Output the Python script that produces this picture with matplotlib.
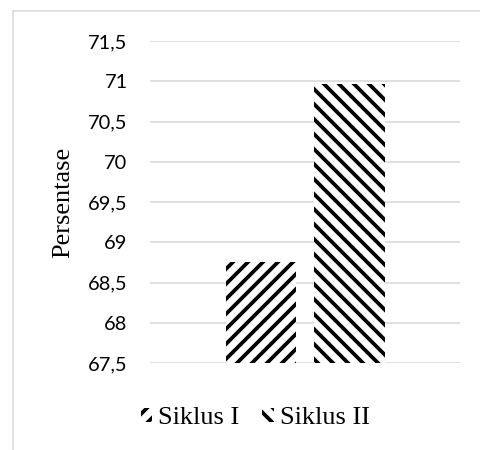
import matplotlib
matplotlib.use("Agg")
import matplotlib.pyplot as plt
from matplotlib.lines import Line2D

categories = ["Siklus I", "Siklus II"]
values = [68.75, 70.97]
hatches = ["//", "\\\\"]
y_ticks = [67.5, 68, 68.5, 69, 69.5, 70, 70.5, 71, 71.5]
y_tick_labels = ["67,5", "68", "68,5", "69", "69,5", "70", "70,5", "71", "71,5"]
y_label = "Persentase"

plt.rcParams["hatch.linewidth"] = 3.0

DPI = 90
W, H = 480, 450
fig = plt.figure(figsize=(W / DPI, H / DPI), dpi=DPI)

# chart border (light gray, partially cropped)
fig.add_artist(Line2D([13 / W, 1.0], [1 - 11 / H, 1 - 11 / H], color="#d9d9d9", lw=1.2))
fig.add_artist(Line2D([13 / W, 13 / W], [0.0, 1 - 11 / H], color="#d9d9d9", lw=1.2))

ax = fig.add_axes([150 / W, 1 - 363 / H, 310 / W, 322 / H])
offsets = [-0.142, 0.1435]
width = 0.226
bars = []
for off, v, h, c in zip(offsets, values, hatches, categories):
    b = ax.bar(off, v - y_ticks[0], bottom=y_ticks[0], width=width, color="white",
               edgecolor="black", linewidth=0, hatch=h, label=c, zorder=3)
    bars.append(b)

ax.set_xlim(-0.5, 0.5)
ax.set_ylim(y_ticks[0], y_ticks[-1])
ax.set_yticks(y_ticks)
ax.set_yticklabels(y_tick_labels, family="Lato", fontsize=16)
ax.set_xticks([])
ax.tick_params(axis="y", length=0, pad=18)
ax.grid(axis="y", color="#d9d9d9", lw=1.3, zorder=0)
for s in ax.spines.values():
    s.set_visible(False)

fig.text(63 / W, 1 - 202 / H, y_label, rotation=90, ha="center", va="center",
         family="Liberation Serif", fontsize=21)

leg = fig.legend(handles=[b[0] for b in bars], labels=categories, loc="center",
                 bbox_to_anchor=(255 / W, 1 - 418 / H), ncol=2, frameon=False,
                 prop={"family": "Liberation Serif", "size": 21},
                 handlelength=0.45, handleheight=0.45, handletextpad=0.2,
                 columnspacing=0.9)

fig.savefig("out.png", dpi=DPI, facecolor="white")
